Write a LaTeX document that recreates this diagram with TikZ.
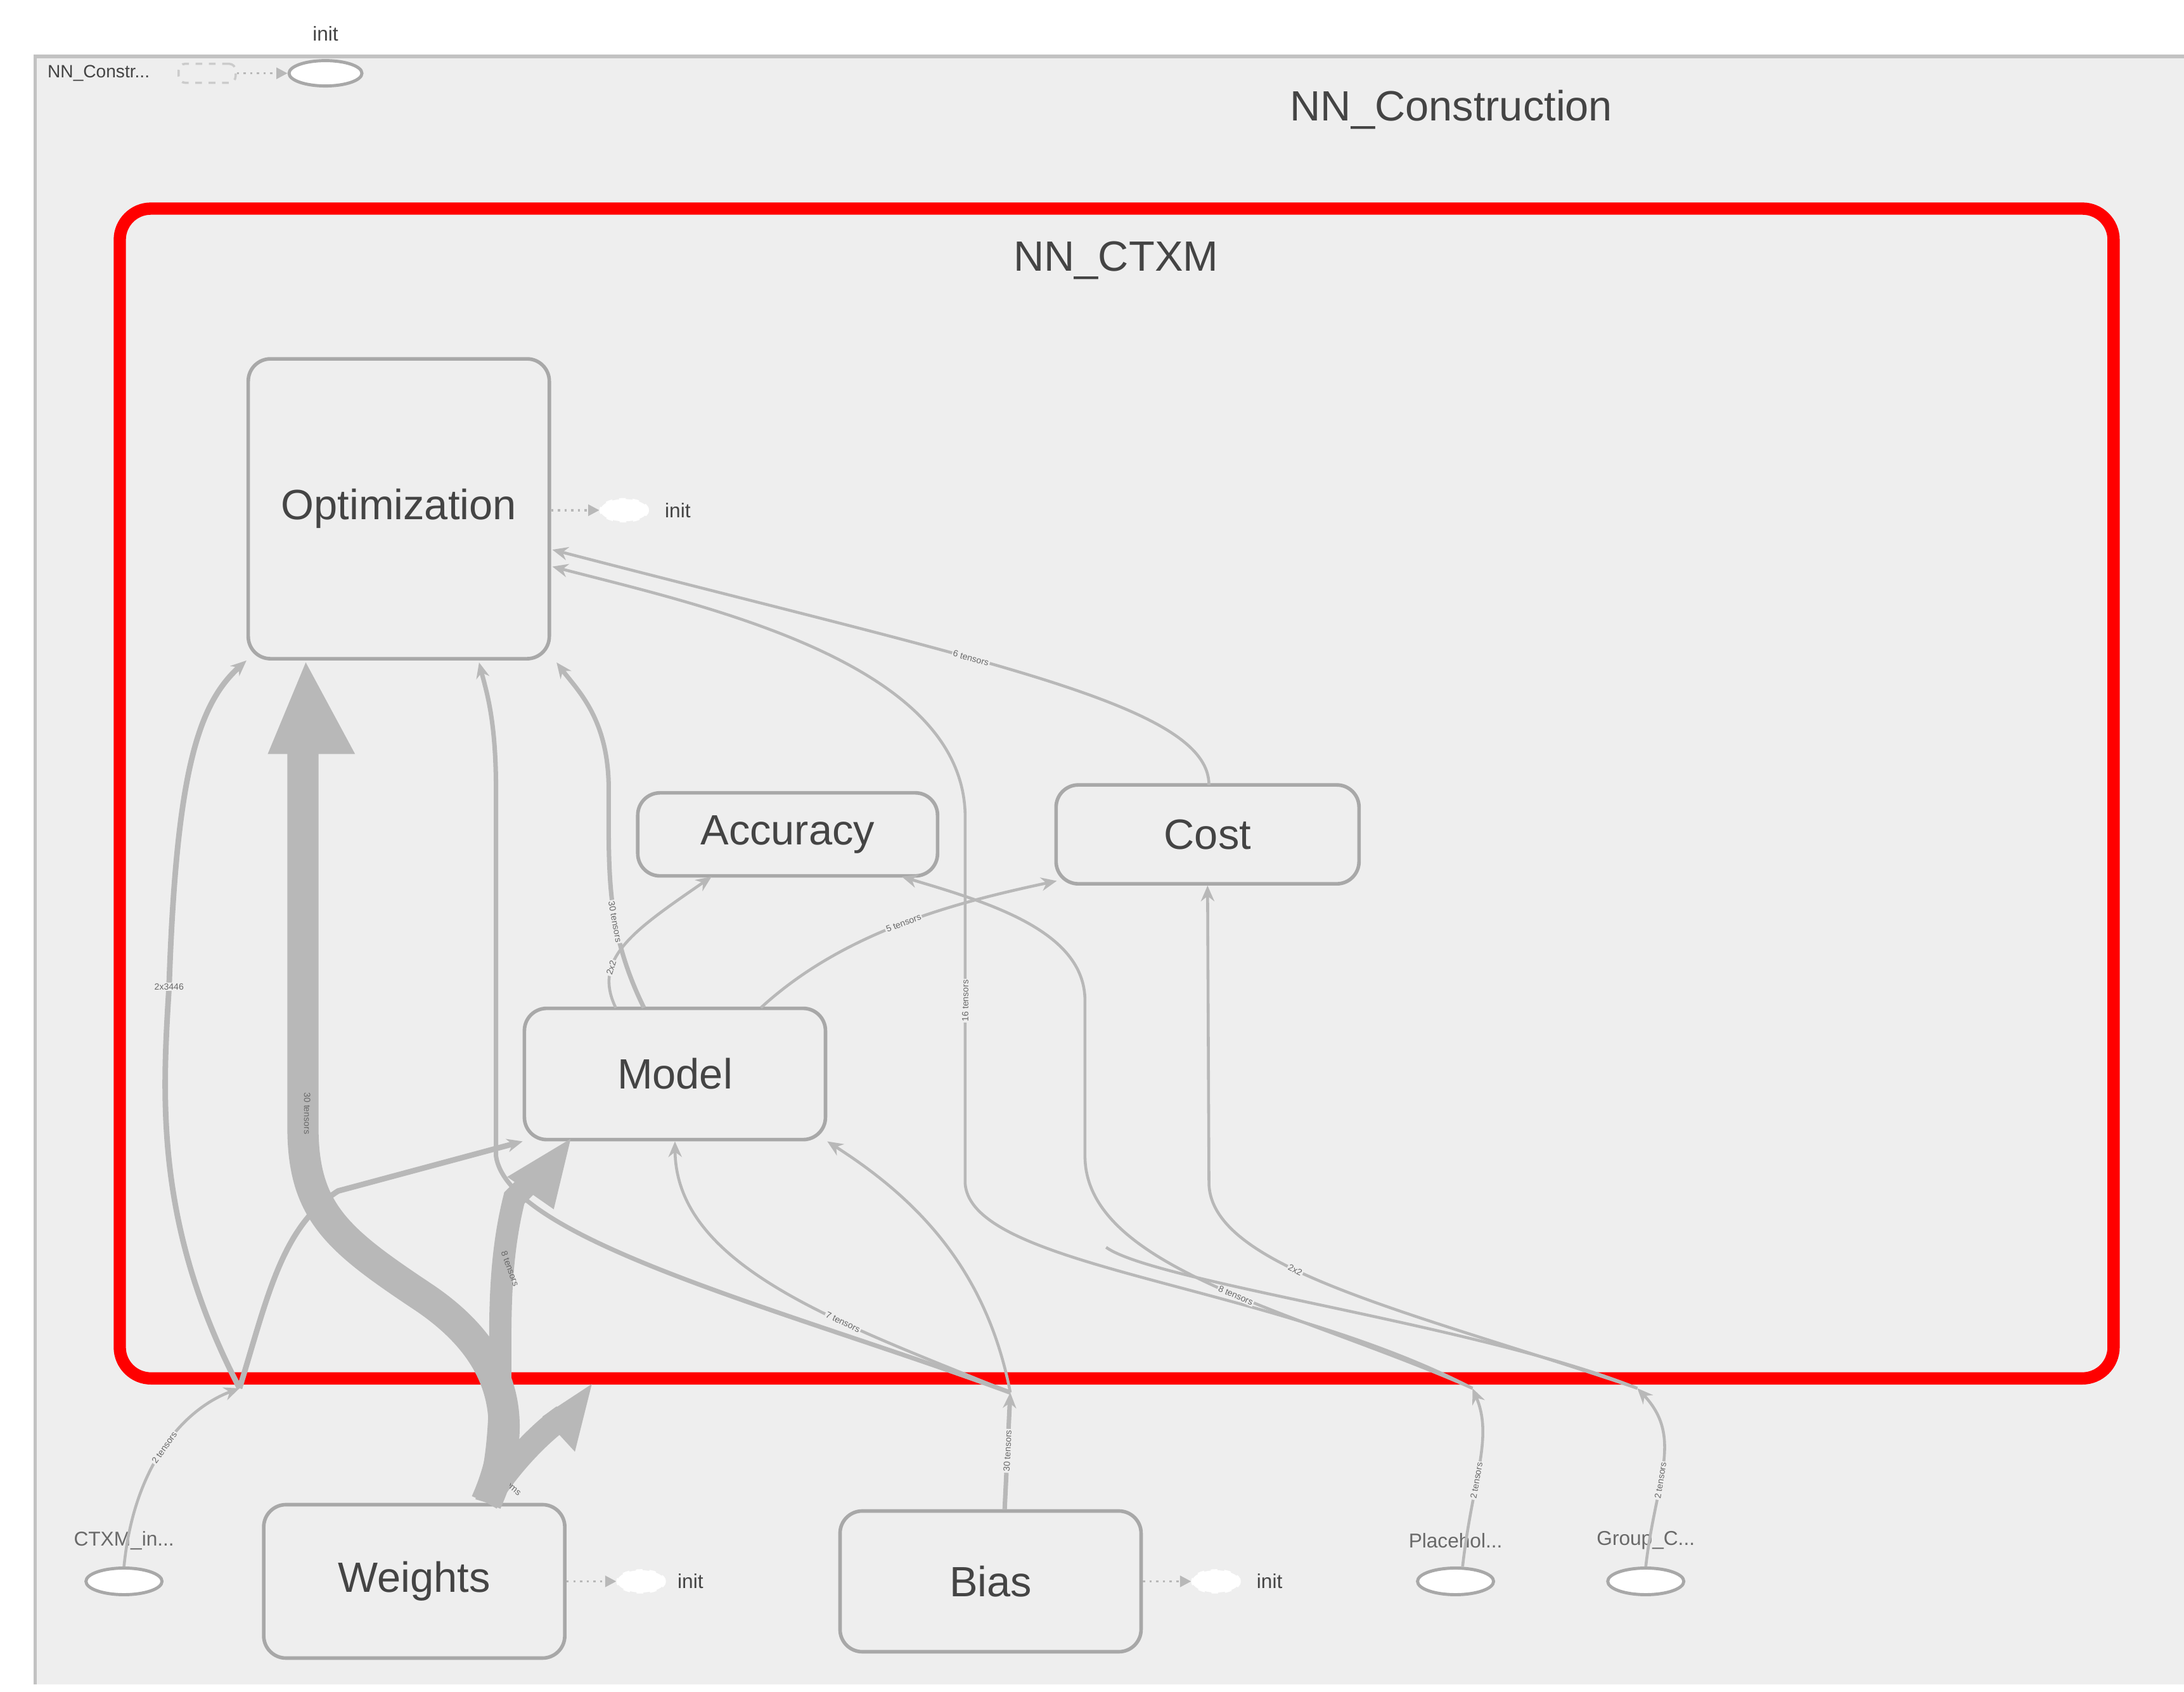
\documentclass[tikz,border=0pt]{standalone}
\usepackage{fontspec}
\setmainfont{Liberation Sans}
\usetikzlibrary{arrows.meta,shapes.geometric}
\definecolor{bg}{HTML}{EEEEEE}
\definecolor{edge}{HTML}{B8B8B8}
\definecolor{bord}{HTML}{A8A8A8}
\definecolor{txt}{HTML}{444444}
\begin{document}
\begin{tikzpicture}[x=0.02223cm,y=-0.02223cm,
  box/.style={draw=bord,line width=1.6pt,fill=bg,rounded corners=10pt,font=\fontsize{19}{22}\selectfont,text=txt},
  ell/.style={draw=bord,line width=1.4pt,fill=white,ellipse,minimum width=1.2cm,minimum height=0.42cm,inner sep=0},
  dell/.style={draw=white,dashed,line width=1pt,fill=white,ellipse,minimum width=0.75cm,minimum height=0.35cm,inner sep=0},
  lab/.style={font=\fontsize{9}{10}\selectfont,text=txt},
  elab/.style={font=\fontsize{4}{5}\selectfont,text=txt!80,sloped,fill=bg,inner sep=0.5pt},
  e/.style={draw=edge,line width=1.3pt,-{Stealth[length=7pt,width=6pt]}},
  dot/.style={draw=edge,line width=1pt,dotted,-{Triangle[length=5pt,width=5pt]}}]
\useasboundingbox (0,0) rectangle (1550,1200.5);
\fill[white] (0,0) rectangle (1550,1200.5);
% outer group
\fill[bg] (25,40) rectangle (1550,1195);
\draw[bord!70,line width=1.5pt] (25,1195) -- (25,40) -- (1550,40);
\node[font=\fontsize{19}{22}\selectfont,text=txt] (ttl) at (1030,78) {NN\_Construction};
% top init
\node[lab] (initt) at (231,24) {init};
\node[ell,minimum width=1.15cm,minimum height=0.4cm] (initE) at (231,52) {};
\node[lab,font=\fontsize{8}{9}\selectfont] (nnc) at (70,52) {NN\_Constr...};
\node[dell,draw=bord!60,fill=bg,rectangle,rounded corners=3pt,minimum width=0.9cm,minimum height=0.3cm] (nnd) at (147,52) {};
\draw[dot] (nnd) -- (initE);
% red group
\draw[red,line width=5.5pt,rounded corners=14pt] (85,148) rectangle (1500,978);
\node[font=\fontsize{19}{22}\selectfont,text=txt] (ctxm) at (792,185) {NN\_CTXM};
% nodes
\node[box,minimum width=4.75cm,minimum height=4.73cm] (opt) at (283,361) {Optimization};
\node[box,minimum width=4.73cm,minimum height=1.31cm] (acc) at (559,592) {Accuracy};
\node[box,minimum width=4.78cm,minimum height=1.56cm] (cost) at (857,592) {Cost};
\node[box,minimum width=4.75cm,minimum height=2.07cm] (model) at (479,762) {Model};
\node[box,minimum width=4.75cm,minimum height=2.42cm] (wts) at (294,1122) {Weights};
\node[box,minimum width=4.75cm,minimum height=2.22cm] (bias) at (703,1122) {Bias};
% init dashed
\node[dell] (i1) at (443,362) {}; \node[lab] (i1t) at (481,362) {init};
\node[dell] (i2) at (455,1122) {}; \node[lab] (i2t) at (490,1122) {init};
\node[dell] (i3) at (863,1122) {}; \node[lab] (i3t) at (901,1122) {init};
\draw[dot] (opt.east |- i1) -- (i1);
\draw[dot] (wts.east |- i2) -- (i2);
\draw[dot] (bias.east |- i3) -- (i3);
% input ellipses
\node[ell] (cin) at (88,1122) {}; \node[lab,text=txt!80] (cint) at (88,1093) {CTXM\_in...};
\node[ell] (ph) at (1033,1122) {}; \node[lab,text=txt!80] (pht) at (1033,1093) {Placehol...};
\node[ell] (gc) at (1168,1122) {}; \node[lab,text=txt!80] (gct) at (1168,1093) {Group\_C...};
% junction coordinates on red border
\coordinate (jc) at (170,985);
\coordinate (jb) at (717,988);
\coordinate (jp) at (1045,985);
\coordinate (jg) at (1162,985);
\coordinate (wt) at (345,1066);
% input edges
\draw[e] (cin.north) .. controls (95,1040) and (130,1000) .. node[elab,pos=0.5]{2 tensors} (jc);
\draw[draw=edge,line width=11pt] (wt) .. controls (360,1040) and (385,1015) .. (400,1005);
\fill[edge] (385,1005) -- (420,982) -- (408,1030) -- cycle;
\node[elab,rotate=-40,fill=none] (l25) at (360,1052) {25 items};
\draw[e,line width=2pt] (bias.north) ++(10,0) coordinate (bn) -- node[elab]{30 tensors} (jb);
\draw[e] (ph.north) ++(5,0) coordinate (pn) .. controls (1045,1050) and (1060,1020) .. node[elab,pos=0.4]{2 tensors} (jp);
\draw[e] (gc.north) .. controls (1175,1050) and (1195,1020) .. node[elab,pos=0.4]{2 tensors} (jg);
% CTXM branches
\draw[e,line width=2.5pt] (jc) .. controls (110,870) and (115,780) .. (120,700) node[elab]{2x3446} .. controls (125,550) and (140,500) .. (opt.south west);
\draw[e,line width=2.5pt] (jc) .. controls (190,920) and (200,870) .. (240,845) -- (model.south west);
% thick weights
\draw[draw=edge,line width=14pt] (wt) .. controls (370,1010) and (360,960) .. (300,920) .. controls (240,880) and (215,860) .. (215,800) -- (215,520);
\fill[edge] (190,535) -- (217,470) -- (252,535) -- cycle;
\node[elab,rotate=-90,fill=none] (l30) at (218,790) {30 tensors};
\draw[draw=edge,line width=10pt] (wt) .. controls (365,1000) and (345,930) .. (365,850) -- (385,830);
\fill[edge] (360,835) -- (405,808) -- (393,858) -- cycle;
\node[elab,rotate=-70,fill=none] (l8) at (362,900) {8 tensors};
% bias edges
\draw[e,line width=2pt] (jb) .. controls (560,930) and (360,880) .. (352,820) -- (352,560) .. controls (352,510) and (345,490) .. (340,470);
\draw[e] (jb) .. controls (600,940) and (480,900) .. node[elab,pos=0.35]{7 tensors} (model.south);
\draw[e] (jb) .. controls (700,900) and (650,850) .. (model.south east);
% model edges
\draw[e,line width=2pt] (457,715) .. controls (430,660) and (432,620) .. node[elab,pos=0.4]{30 tensors} (432,560) .. controls (432,510) and (410,490) .. (395,470);
\draw[e] (437,715) .. controls (420,680) and (450,660) .. node[elab,pos=0.3]{2x2} (505,622);
\draw[e] (540,715) .. controls (600,660) and (680,640) .. node[elab]{5 tensors} (750,625);
% cost to opt
\draw[e] (858,557) .. controls (858,500) and (700,470) .. node[elab,pos=0.6]{6 tensors} (392,390);
% placeholder edges
\draw[e] (jp) .. controls (900,910) and (690,900) .. (685,840) -- node[elab,pos=0.5]{16 tensors} (685,580) .. controls (685,470) and (500,430) .. (392,402);
\draw[e] (jp) .. controls (920,930) and (770,900) .. node[elab,pos=0.45]{8 tensors} (770,820) -- (770,710) .. controls (770,660) and (700,640) .. (640,622);
% group edges
\draw[e] (jg) .. controls (1000,930) and (860,900) .. node[elab,pos=0.6]{2x2} (858,840) -- (cost.south);
\draw[draw=edge,line width=1.3pt] (jg) .. controls (1050,940) and (820,910) .. (785,885);
\end{tikzpicture}
\end{document}
